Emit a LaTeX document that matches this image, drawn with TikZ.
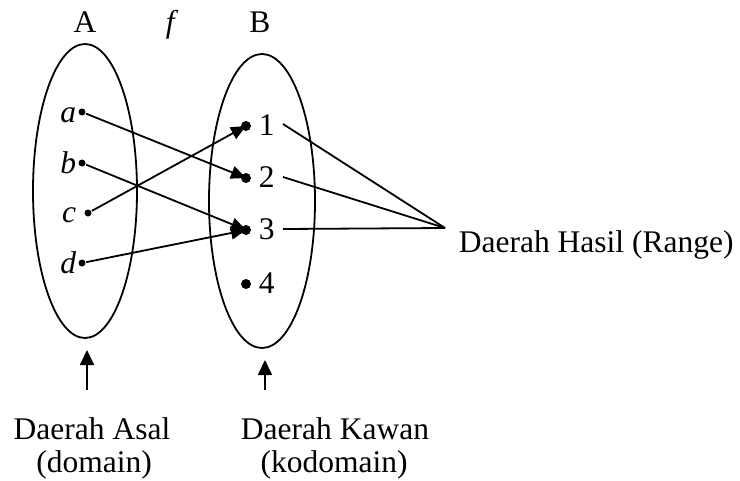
\documentclass[tikz,border=0pt]{standalone}
\usepackage{fontspec}
\setmainfont{Liberation Serif}
\usetikzlibrary{arrows.meta}
\begin{document}
\begin{tikzpicture}[x=1pt,y=-1pt, line width=1.8pt,
  every node/.style={font=\fontsize{31.5}{33}\selectfont, inner sep=0pt},
  dotA/.style={circle, fill, inner sep=0pt, minimum size=7pt},
  dotB/.style={circle, fill, inner sep=0pt, minimum size=10pt},
  maparrow/.style={-{Triangle[length=15pt,width=13pt]}},
  uparrow/.style={-{Triangle[length=15pt,width=14pt]}},
  setell/.style={draw, line width=1.8pt}]
\useasboundingbox (0,0) rectangle (740,480);
% sets
\draw[setell] (85,191) ellipse [x radius=52pt, y radius=147pt];
\draw[setell] (262,201) ellipse [x radius=53pt, y radius=147pt];
% headings
\node[anchor=base] (hA) at (85,32) {A};
\node[anchor=base] (hf) at (172,32) {\textit{f}};
\node[anchor=base] (hB) at (260,32) {B};
% domain points
\node[dotA] (pa) at (82,112) {};
\node[dotA] (pb) at (82,163) {};
\node[dotA] (pc) at (88,213) {};
\node[dotA] (pd) at (82,263) {};
\node[anchor=base east] (la) at (77,122) {\textit{a}};
\node[anchor=base east] (lb) at (77,173) {\textit{b}};
\node[anchor=base east] (lc) at (77,222) {\textit{c}};
\node[anchor=base east] (ld) at (77,273) {\textit{d}};
% codomain points
\node[dotB] (p1) at (246,126) {};
\node[dotB] (p2) at (246,178) {};
\node[dotB] (p3) at (246,230) {};
\node[dotB] (p4) at (246,284) {};
\node[anchor=base west] (l1) at (258,135) {1};
\node[anchor=base west] (l2) at (258,187) {2};
\node[anchor=base west] (l3) at (258,239) {3};
\node[anchor=base west] (l4) at (258,293) {4};
% mapping
\draw[maparrow] (pa) -- (p2.center);
\draw[maparrow] (pb) -- (p3.center);
\draw[maparrow] (pc) -- (p1.center);
\draw[maparrow] (pd) -- (p3.center);
% range
\coordinate (R) at (445,228);
\node[anchor=base west] (range) at (458,252) {Daerah Hasil (Range)};
\coordinate (s1) at (283,124);
\coordinate (s2) at (283,177);
\coordinate (s3) at (283,229);
\draw (s1) -- (R);
\draw (s2) -- (R);
\draw (s3) -- (R);
% bottom labels
\node[anchor=base] (dom) at (92,439) {Daerah Asal};
\node[anchor=base] (dom2) at (94,472) {(domain)};
\node[anchor=base] (kod) at (335,439) {Daerah Kawan};
\node[anchor=base] (kod2) at (334,472) {(kodomain)};
\coordinate (ta) at (87,390);
\coordinate (ha) at (87,350);
\coordinate (tb) at (265,390);
\coordinate (hb) at (265,360);
\draw[uparrow] (ta) -- (ha);
\draw[uparrow] (tb) -- (hb);
\end{tikzpicture}
\end{document}
